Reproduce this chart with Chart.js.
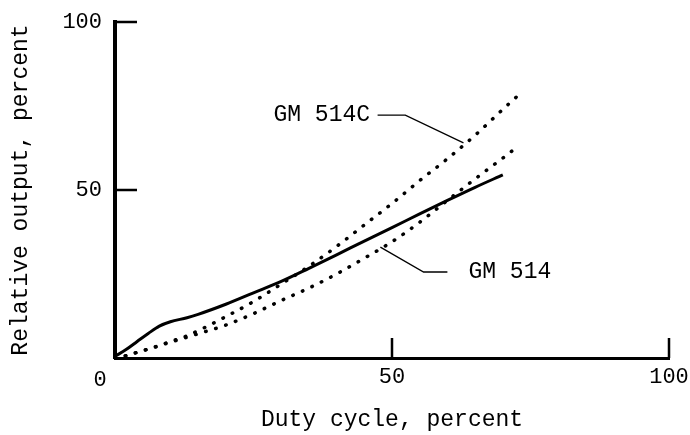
<!DOCTYPE html>
<html>
<head>
<meta charset="utf-8">
<script src="https://cdn.jsdelivr.net/npm/chart.js@4/dist/chart.umd.min.js"></script>
<style>
  body { margin: 0; background: #fff; }
  #wrap { width: 690px; height: 435px; }
</style>
</head>
<body>
<div id="wrap"><canvas id="chart"></canvas></div>
<script>
// GM 514C - upper dotted curve
const gm514cX = [0, 2, 4, 7, 10, 13, 16, 20, 25, 30, 35, 40, 45, 50, 55, 60, 65, 70, 73];
const gm514cY = [0, 0.7, 1.7, 3.2, 4.9, 6.6, 8.9, 12.3, 16.8, 22, 27.3, 33.2, 39.6, 46, 52.8, 59.3, 66.3, 74, 78.5];
// GM 514 - lower dotted curve
const gm514X = [0, 2, 4, 7, 10, 13, 16, 20, 25, 30, 35, 40, 45, 50, 55, 60, 65, 70, 73];
const gm514Y = [0, 0.7, 1.7, 3.1, 4.7, 6.2, 7.7, 9.8, 13.2, 17.1, 20.8, 25, 29.7, 34.6, 40.4, 46.9, 53.3, 59.5, 63.3];
// solid curve
const solidX = [0, 2, 4, 6, 8, 10, 13, 15, 20, 25, 30, 35, 40, 45, 50, 55, 60, 65, 70];
const solidY = [0.5, 2.5, 4.9, 7.3, 9.5, 10.8, 12, 13, 16, 19.4, 22.8, 26.7, 30.7, 34.8, 38.8, 42.9, 46.9, 50.8, 54.5];

const xTicks = [50, 100];
const yTicks = [50, 100];
const originLabel = '0';

const FONT = "'Liberation Mono', 'DejaVu Sans Mono', monospace";

const pts = (xs, ys) => xs.map((x, i) => ({ x: x, y: ys[i] }));

// inward tick marks, origin label and the two callouts
const decorations = {
    id: 'decorations',
    afterDraw(chart) {
        const ctx = chart.ctx;
        const xs = chart.scales.x, ys = chart.scales.y;
        const area = chart.chartArea;
        ctx.save();
        ctx.strokeStyle = '#000';
        ctx.lineWidth = 2.5;
        ctx.beginPath();
        yTicks.forEach(v => {
            const py = ys.getPixelForValue(v);
            ctx.moveTo(area.left, py);
            ctx.lineTo(area.left + 22, py);
        });
        xTicks.forEach(v => {
            const px = xs.getPixelForValue(v);
            ctx.moveTo(px, area.bottom);
            ctx.lineTo(px, area.bottom - 20);
        });
        ctx.stroke();

        ctx.fillStyle = '#000';
        ctx.font = '22px ' + FONT;
        ctx.textAlign = 'center';
        ctx.textBaseline = 'middle';
        ctx.fillText(originLabel, xs.getPixelForValue(0) - 15, area.bottom + 22);

        // leader lines
        ctx.lineWidth = 1.3;
        ctx.beginPath();
        ctx.moveTo(xs.getPixelForValue(47.4), ys.getPixelForValue(72.3));
        ctx.lineTo(xs.getPixelForValue(52.4), ys.getPixelForValue(72.3));
        ctx.lineTo(xs.getPixelForValue(62.9), ys.getPixelForValue(64));
        ctx.moveTo(xs.getPixelForValue(47.9), ys.getPixelForValue(33));
        ctx.lineTo(xs.getPixelForValue(55.7), ys.getPixelForValue(25.6));
        ctx.lineTo(xs.getPixelForValue(60), ys.getPixelForValue(25.6));
        ctx.stroke();

        ctx.font = '23px ' + FONT;
        ctx.textAlign = 'left';
        ctx.fillText('GM 514C', xs.getPixelForValue(28.6), ys.getPixelForValue(72.3));
        ctx.fillText('GM 514', xs.getPixelForValue(63.8), ys.getPixelForValue(25.6));
        ctx.restore();
    }
};

new Chart(document.getElementById('chart'), {
    type: 'line',
    data: {
        datasets: [
            {
                label: 'GM 514C',
                data: pts(gm514cX, gm514cY),
                borderColor: '#000',
                borderWidth: 3.5,
                borderDash: [0.5, 10],
                borderCapStyle: 'round',
                pointRadius: 0,
                cubicInterpolationMode: 'monotone'
            },
            {
                label: 'GM 514',
                data: pts(gm514X, gm514Y),
                borderColor: '#000',
                borderWidth: 3.5,
                borderDash: [0.5, 10],
                borderCapStyle: 'round',
                pointRadius: 0,
                cubicInterpolationMode: 'monotone'
            },
            {
                label: 'Solid curve',
                data: pts(solidX, solidY),
                borderColor: '#000',
                borderWidth: 3,
                pointRadius: 0,
                cubicInterpolationMode: 'monotone'
            }
        ]
    },
    options: {
        responsive: true,
        maintainAspectRatio: false,
        animation: false,
        layout: { padding: { top: 22, right: 21, left: 0, bottom: 0 } },
        plugins: {
            legend: { display: false },
            tooltip: { enabled: false }
        },
        scales: {
            x: {
                type: 'linear',
                min: 0,
                max: 100,
                afterFit: s => { s.height = 77; s.paddingLeft = 0; s.paddingRight = 0; },
                afterBuildTicks: s => { s.ticks = xTicks.map(v => ({ value: v })); },
                grid: { display: false, drawTicks: false },
                border: { display: true, color: '#000', width: 3 },
                ticks: {
                    color: '#000',
                    padding: 6,
                    font: { family: FONT, size: 22 }
                },
                title: {
                    display: true,
                    text: 'Duty cycle, percent',
                    color: '#000',
                    padding: { top: 0, bottom: 1 },
                    font: { family: FONT, size: 23 }
                }
            },
            y: {
                min: 0,
                max: 100,
                afterFit: s => { s.width = 115; s.paddingTop = 0; s.paddingBottom = 0; },
                afterBuildTicks: s => { s.ticks = yTicks.map(v => ({ value: v })); },
                grid: { display: false, drawTicks: false },
                border: { display: true, color: '#000', width: 4 },
                ticks: {
                    color: '#000',
                    padding: 13,
                    font: { family: FONT, size: 22 }
                },
                title: {
                    display: true,
                    text: 'Relative output, percent',
                    color: '#000',
                    padding: { top: 7, bottom: 0 },
                    font: { family: FONT, size: 23 }
                }
            }
        }
    },
    plugins: [decorations]
});
</script>
</body>
</html>
